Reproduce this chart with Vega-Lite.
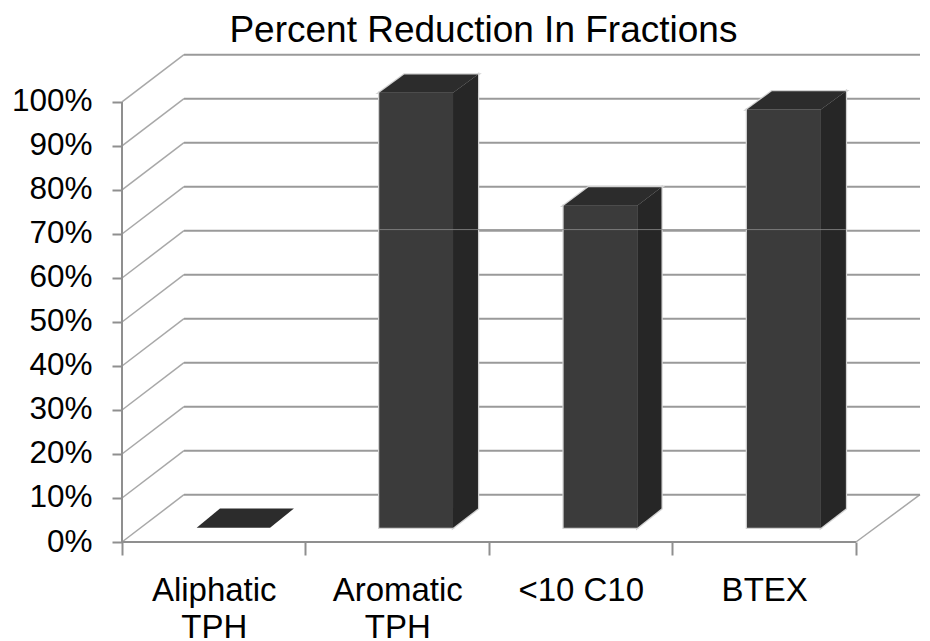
{
"$schema":"https://vega.github.io/schema/vega-lite/v6.json",
"width":798,"height":488,
"autosize":{"type":"none"},
"padding":{"left":122,"top":54,"right":10,"bottom":99},
"background":"white",
"title":{"text":"Percent Reduction In Fractions","font":"Liberation Sans","fontSize":37,"fontWeight":"normal","color":"#000000","anchor":"start","dx":218,"dy":41,"baseline":"alphabetic","offset":13},
"config":{"view":{"stroke":null}},
"datasets":{
"wall":[
{"level":0,"x":0.338,"y":10.75},{"level":0,"x":4.349,"y":10.75},
{"level":10,"x":0.338,"y":20.75},{"level":10,"x":4.349,"y":20.75},
{"level":20,"x":0.338,"y":30.75},{"level":20,"x":4.349,"y":30.75},
{"level":30,"x":0.338,"y":40.75},{"level":30,"x":4.349,"y":40.75},
{"level":40,"x":0.338,"y":50.75},{"level":40,"x":4.349,"y":50.75},
{"level":50,"x":0.338,"y":60.75},{"level":50,"x":4.349,"y":60.75},
{"level":60,"x":0.338,"y":70.75},{"level":60,"x":4.349,"y":70.75},
{"level":70,"x":0.338,"y":80.75},{"level":70,"x":4.349,"y":80.75},
{"level":80,"x":0.338,"y":90.75},{"level":80,"x":4.349,"y":90.75},
{"level":90,"x":0.338,"y":100.75},{"level":90,"x":4.349,"y":100.75},
{"level":100,"x":0.338,"y":110.75},{"level":100,"x":4.349,"y":110.75}
],
"side":[
{"level":0,"x":0,"y":0},{"level":0,"x":0.338,"y":10.75},
{"level":10,"x":0,"y":10},{"level":10,"x":0.338,"y":20.75},
{"level":20,"x":0,"y":20},{"level":20,"x":0.338,"y":30.75},
{"level":30,"x":0,"y":30},{"level":30,"x":0.338,"y":40.75},
{"level":40,"x":0,"y":40},{"level":40,"x":0.338,"y":50.75},
{"level":50,"x":0,"y":50},{"level":50,"x":0.338,"y":60.75},
{"level":60,"x":0,"y":60},{"level":60,"x":0.338,"y":70.75},
{"level":70,"x":0,"y":70},{"level":70,"x":0.338,"y":80.75},
{"level":80,"x":0,"y":80},{"level":80,"x":0.338,"y":90.75},
{"level":90,"x":0,"y":90},{"level":90,"x":0.338,"y":100.75},
{"level":100,"x":0,"y":100},{"level":100,"x":0.338,"y":110.75},
{"level":-1,"x":4,"y":0},{"level":-1,"x":4.349,"y":10.75}
],
"frame":[
{"edge":"v","x":0,"y":0},{"edge":"v","x":0,"y":100},
{"edge":"h","x":0,"y":0},{"edge":"h","x":4,"y":0}
],
"thin":[{"x":1.402,"y":71.0},{"x":3.945,"y":71.0}],
"faces":[
{"bar":"Aliphatic TPH","face":"top","x":0.407,"y":3.23,"y2":3.23},
{"bar":"Aliphatic TPH","face":"top","x":0.534,"y":3.23,"y2":7.6},
{"bar":"Aliphatic TPH","face":"top","x":0.807,"y":3.23,"y2":7.6},
{"bar":"Aliphatic TPH","face":"top","x":0.937,"y":7.6,"y2":7.6},
{"bar":"Aromatic TPH","face":"front","x":1.402,"y":3.23,"y2":102.1},
{"bar":"Aromatic TPH","face":"front","x":1.804,"y":3.23,"y2":102.1},
{"bar":"Aromatic TPH","face":"side","x":1.804,"y":3.23,"y2":102.1},
{"bar":"Aromatic TPH","face":"side","x":1.94,"y":7.6,"y2":106.25},
{"bar":"Aromatic TPH","face":"top","x":1.402,"y":102.1,"y2":102.1},
{"bar":"Aromatic TPH","face":"top","x":1.538,"y":102.1,"y2":106.25},
{"bar":"Aromatic TPH","face":"top","x":1.804,"y":102.1,"y2":106.25},
{"bar":"Aromatic TPH","face":"top","x":1.94,"y":106.25,"y2":106.25},
{"bar":"<10 C10","face":"front","x":2.407,"y":3.23,"y2":76.4},
{"bar":"<10 C10","face":"front","x":2.808,"y":3.23,"y2":76.4},
{"bar":"<10 C10","face":"side","x":2.808,"y":3.23,"y2":76.4},
{"bar":"<10 C10","face":"side","x":2.94,"y":7.6,"y2":80.6},
{"bar":"<10 C10","face":"top","x":2.407,"y":76.4,"y2":76.4},
{"bar":"<10 C10","face":"top","x":2.542,"y":76.4,"y2":80.6},
{"bar":"<10 C10","face":"top","x":2.808,"y":76.4,"y2":80.6},
{"bar":"<10 C10","face":"top","x":2.94,"y":80.6,"y2":80.6},
{"bar":"BTEX","face":"front","x":3.406,"y":3.23,"y2":98.3},
{"bar":"BTEX","face":"front","x":3.809,"y":3.23,"y2":98.3},
{"bar":"BTEX","face":"side","x":3.809,"y":3.23,"y2":98.3},
{"bar":"BTEX","face":"side","x":3.945,"y":7.6,"y2":102.45},
{"bar":"BTEX","face":"top","x":3.406,"y":98.3,"y2":98.3},
{"bar":"BTEX","face":"top","x":3.542,"y":98.3,"y2":102.45},
{"bar":"BTEX","face":"top","x":3.809,"y":98.3,"y2":102.45},
{"bar":"BTEX","face":"top","x":3.945,"y":102.45,"y2":102.45}
]
},
"layer":[
{"data":{"name":"side"},"mark":{"type":"line","stroke":"#a8a8a8","strokeWidth":1.5,"clip":false},
"encoding":{
"x":{"field":"x","type":"quantitative","scale":{"domain":[0,4.349],"nice":false,"zero":false},"axis":{"orient":"bottom","values":[0,1,2,3,4],"labels":false,"title":null,"grid":false,"domain":false,"ticks":true,"tickSize":13,"tickWidth":2,"tickColor":"#8f8f8f"}},
"y":{"field":"y","type":"quantitative","scale":{"domain":[0,110.9],"nice":false,"zero":false},"axis":{"values":[0,10,20,30,40,50,60,70,80,90,100],"labelExpr":"datum.value+'%'","title":null,"grid":false,"domain":false,"tickSize":10,"tickWidth":2,"tickColor":"#8f8f8f","labelFont":"Liberation Sans","labelFontSize":31.5,"labelColor":"#000000","labelPadding":20,"labelBound":false,"labelOverlap":false,"labelFlush":false}},
"detail":{"field":"level"}}},
{"data":{"name":"wall"},"mark":{"type":"line","stroke":"#9a9a9a","strokeWidth":2,"clip":false},
"encoding":{"x":{"field":"x","type":"quantitative","axis":null},"y":{"field":"y","type":"quantitative"},"detail":{"field":"level"}}},
{"data":{"name":"frame"},"mark":{"type":"line","stroke":"#8f8f8f","strokeWidth":2,"clip":false},
"encoding":{"x":{"field":"x","type":"quantitative","axis":null},"y":{"field":"y","type":"quantitative"},"detail":{"field":"edge"}}},
{"data":{"name":"faces"},"transform":[{"filter":"datum.bar != 'Aliphatic TPH'"}],"mark":{"type":"area","clip":false,"orient":"vertical","stroke":"#d2d2d2","strokeWidth":2.5,"fill":"#d2d2d2"},
"encoding":{"x":{"field":"x","type":"quantitative","axis":null},"y":{"field":"y","type":"quantitative"},"y2":{"field":"y2"},"detail":[{"field":"bar"},{"field":"face"}]}},
{"data":{"name":"faces"},"mark":{"type":"area","clip":false,"orient":"vertical"},
"encoding":{
"x":{"field":"x","type":"quantitative","axis":{"orient":"bottom","values":[0.5,1.5,2.5,3.5],"labelExpr":"datum.value==0.5?['Aliphatic','TPH']:datum.value==1.5?['Aromatic','TPH']:datum.value==2.5?'<10 C10':'BTEX'","title":null,"grid":false,"domain":false,"ticks":false,"labelFont":"Liberation Sans","labelFontSize":33,"labelColor":"#000000","labelPadding":32,"labelLineHeight":37.5,"labelBound":false,"labelOverlap":false,"labelFlush":false,"labelAlign":"center"}},
"y":{"field":"y","type":"quantitative"},
"y2":{"field":"y2"},
"color":{"field":"face","type":"nominal","legend":null,"scale":{"domain":["front","side","top"],"range":["#3b3b3b","#262626","#2c2c2c"]}},
"detail":{"field":"bar"}}},
{"data":{"name":"thin"},"mark":{"type":"line","stroke":"#8a8a8a","strokeWidth":1,"opacity":0.8,"clip":false},
"encoding":{"x":{"field":"x","type":"quantitative","axis":null},"y":{"field":"y","type":"quantitative"}}}
],
"resolve":{"axis":{"x":"independent"}}
}
